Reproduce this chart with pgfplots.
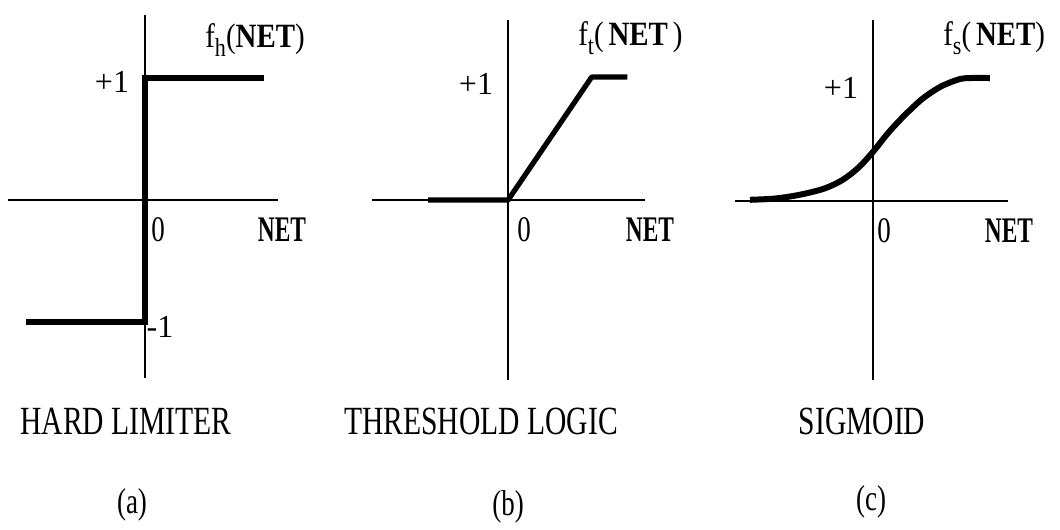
\documentclass[border=0pt]{standalone}
\usepackage{pgfplots}
\pgfplotsset{compat=1.18}
\usepackage{fontspec}
\setmainfont{Liberation Serif}
\begin{document}
\begin{tikzpicture}
\path[use as bounding box] (0pt,0pt) rectangle (530pt,265pt);
\pgfplotsset{
  panel/.style={
    scale only axis, anchor=south west,
    axis lines=middle, axis line style={-, line width=1.1pt, black},
    xtick=\empty, ytick=\empty, clip=false,
  },
  fx/.style={black, line width=2.6pt, line join=round, line cap=butt, no markers},
}
% (a) Hard limiter
\begin{axis}[panel, at={(4pt,76pt)}, x=61pt, y=61pt,
  xmin=-1.123, xmax=1.090, ymin=-1.459, ymax=1.516]
\addplot[fx, line join=miter] coordinates {(-0.975,-1) (0,-1) (0,1) (0.975,1)};
\end{axis}
% (b) Threshold logic
\begin{axis}[panel, at={(186pt,75pt)}, x=61.5pt, y=61.5pt,
  xmin=-1.106, xmax=1.114, ymin=-1.463, ymax=1.463]
\addplot[fx] coordinates {(-0.65,0) (0,0) (0.68,1) (0.97,1)};
\end{axis}
% (c) Sigmoid
\begin{axis}[panel, at={(367.5pt,75pt)}, x=61.5pt, y=61.5pt,
  xmin=-1.122, xmax=1.098, ymin=-1.455, ymax=1.472]
\addplot[fx, line width=3pt, smooth] coordinates {
  (-1.00,0.01) (-0.80,0.02) (-0.60,0.05) (-0.40,0.10) (-0.25,0.17)
  (-0.12,0.27) (0,0.40) (0.12,0.55) (0.25,0.69) (0.40,0.83)
  (0.55,0.93) (0.70,0.99) (0.80,1.0) (0.95,1.0)};
\end{axis}
% axis texts
\tikzset{lab/.style={font=\fontsize{16}{16}\selectfont, inner sep=0pt},
         nettxt/.style={font=\fontsize{18}{18}\selectfont\bfseries, xscale=0.65, inner sep=0pt},
         zerotxt/.style={font=\fontsize{18}{18}\selectfont, xscale=0.75, inner sep=0pt},
         fntxt/.style={font=\fontsize{17}{17}\selectfont, xscale=0.85, anchor=west, inner sep=0pt},
         captxt/.style={font=\fontsize{20}{20}\selectfont, xscale=0.74, inner sep=0pt},
         subtxt/.style={font=\fontsize{18}{18}\selectfont, xscale=0.75, inner sep=0pt}}
% (a)
\node[lab] at (56pt,224pt) {+1};
\node[zerotxt] at (79pt,150pt) {0};
\node[nettxt] at (141pt,150pt) {NET};
\node[lab] at (80pt,101.5pt) {-1};
\node[fntxt] at (102.5pt,245pt) {f\raisebox{-0.55ex}{\fontsize{13}{13}\selectfont h}(\textbf{NET})};
% (b)
\node[lab] at (238pt,223pt) {+1};
\node[zerotxt] at (262pt,150pt) {0};
\node[nettxt] at (325pt,150pt) {NET};
\node[fntxt] at (289pt,246pt) {f\raisebox{-0.55ex}{\fontsize{13}{13}\selectfont t}(\,\textbf{NET}\,)};
% (c)
\node[lab] at (420.5pt,221pt) {+1};
\node[zerotxt] at (442pt,149.5pt) {0};
\node[nettxt] at (504.5pt,149.5pt) {NET};
\node[fntxt] at (471.5pt,246pt) {f\raisebox{-0.55ex}{\fontsize{13}{13}\selectfont s}(\,\textbf{NET})};
% captions
\node[captxt] at (63pt,54.5pt) {HARD LIMITER};
\node[captxt] at (240.5pt,54.5pt) {THRESHOLD LOGIC};
\node[captxt] at (431pt,54.5pt) {SIGMOID};
\node[subtxt] at (66pt,12.5pt) {(a)};
\node[subtxt] at (254pt,11.5pt) {(b)};
\node[subtxt] at (435.5pt,14pt) {(c)};
\end{tikzpicture}
\end{document}
